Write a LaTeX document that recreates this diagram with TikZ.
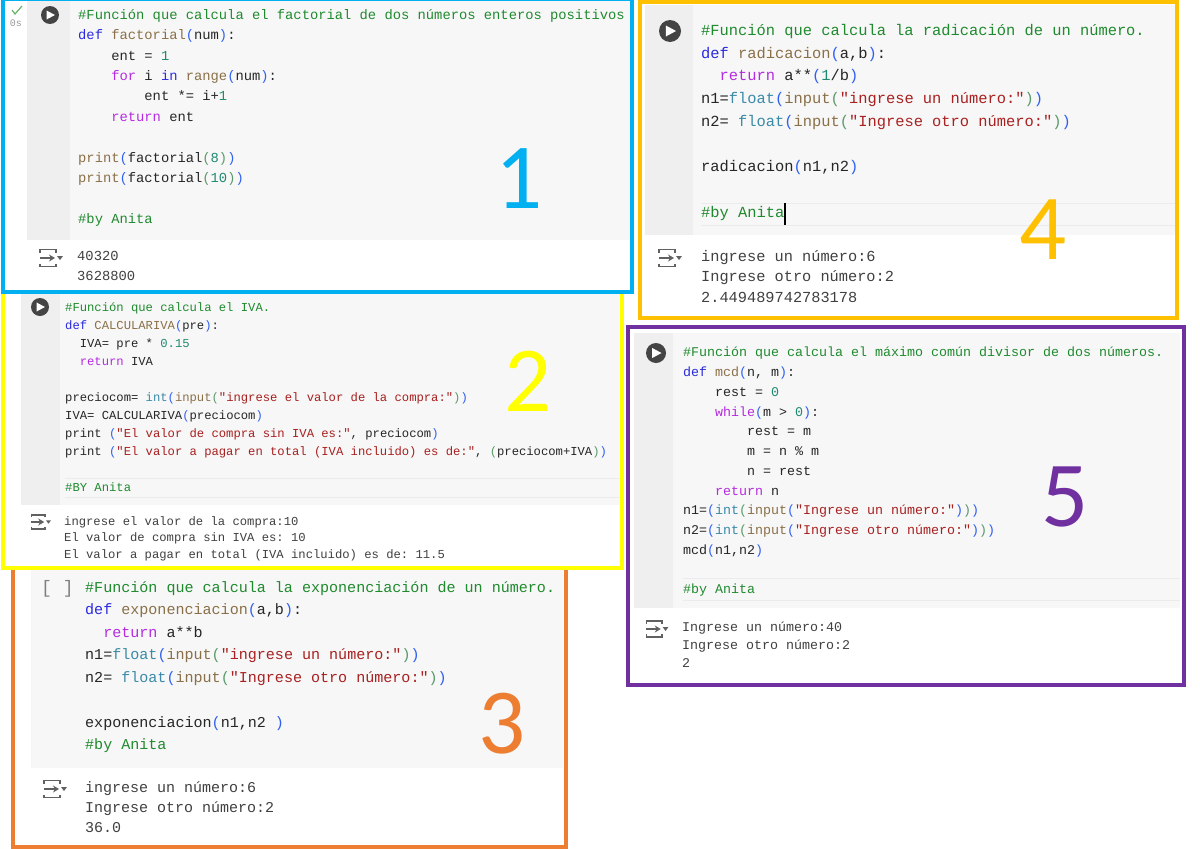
\documentclass[tikz,border=0pt]{standalone}
\usepackage{fontspec}
\usetikzlibrary{arrows.meta}
\setmonofont{Liberation Mono}
\newfontfamily\numfont{Carlito}

\definecolor{cblue}{HTML}{00B0F0}
\definecolor{cyellow}{HTML}{FFFF00}
\definecolor{corange}{HTML}{ED7D31}
\definecolor{cgold}{HTML}{FFC000}
\definecolor{cpurple}{HTML}{7030A0}
\definecolor{cellgray}{HTML}{F7F7F7}
\definecolor{guttergray}{HTML}{EFEFEF}
\definecolor{icongray}{HTML}{616161}

\newcommand{\ccom}[1]{\textcolor[HTML]{1F8A2E}{#1}}
\newcommand{\ckw}[1]{\textcolor[HTML]{2A2AE0}{#1}}
\newcommand{\cflow}[1]{\textcolor[HTML]{B52BE0}{#1}}
\newcommand{\cfn}[1]{\textcolor[HTML]{8A7048}{#1}}
\newcommand{\cstr}[1]{\textcolor[HTML]{A82020}{#1}}
\newcommand{\cnum}[1]{\textcolor[HTML]{1F8A70}{#1}}
\newcommand{\ctyp}[1]{\textcolor[HTML]{3A8AA8}{#1}}
\newcommand{\cpa}[1]{\textcolor[HTML]{3060F0}{#1}}
\newcommand{\cpb}[1]{\textcolor[HTML]{5A9A6A}{#1}}
\newcommand{\ind}[1]{\hphantom{#1}}

% cell background: x1, y1, x2, ysplit, y2, xgutter
\newcommand{\cellback}[6]{
    \fill[white] (#1,#2) rectangle (#3,#5);
    \fill[cellgray] (#1,#2) rectangle (#3,#4);
    \fill[guttergray] (#1,#2) rectangle (#6,#4);
}
\newcommand{\playicon}[3]{
    \fill[icongray!70!black] (#1,#2) circle (#3);
    \fill[white] (#1-0.38*#3,#2-0.5*#3) -- (#1+0.55*#3,#2) -- (#1-0.38*#3,#2+0.5*#3) -- cycle;
}
\newcommand{\outicon}[3]{
    \begin{scope}[shift={(#1,#2)},scale=#3,line width=1.8pt,draw=icongray]
        \draw (-10,-5.5) -- (-10,-8.5) -- (6,-8.5) -- (6,-5.5);
        \draw[-{Stealth[length=6pt,width=7pt]}] (-10.5,0) -- (5,0);
        \fill[icongray] (7,-2) -- (13,-2) -- (10,2) -- cycle;
        \draw (-10,5.5) -- (-10,8.5) -- (6,8.5) -- (6,5.5);
    \end{scope}
}

\tikzset{
    codetext/.style 2 args={anchor=north west,inner sep=0pt,align=left,text=black!85,
        font=\ttfamily\fontsize{#1}{#2}\selectfont},
    outtext/.style 2 args={codetext={#1}{#2},text=black!75},
    bignum/.style={inner sep=0pt,font=\numfont\fontsize{93}{93}\selectfont},
    frameline/.style={line width=4pt},
    focusline/.style={draw=black!8,line width=1pt}
}

\begin{document}
\begin{tikzpicture}[x=1pt,y=-1pt]
    \useasboundingbox (0,0) rectangle (1200,849);
    \fill[white] (0,0) rectangle (1200,849);

    % 4
    \cellback{645}{5}{1175}{235}{316}{693}
    \draw[focusline] (701,203) -- (1175,203) (701,225) -- (1175,225);
    \playicon{670}{31}{11}
    \node[codetext={15.4}{22.75}] (code4) at (701,24) {\ccom{\#Función que calcula la radicación de un número.}\\
        \ckw{def} \cfn{radicacion}\cpa{(}a,b\cpa{)}:\\
        \ind{00}\cflow{return} a**\cpa{(}\cnum{1}/b\cpa{)}\\
        n1=\ctyp{float}\cpa{(}\cfn{input}\cpb{(}\cstr{"ingrese un número:"}\cpb{)}\cpa{)}\\
        n2= \ctyp{float}\cpa{(}\cfn{input}\cpb{(}\cstr{"Ingrese otro número:"}\cpb{)}\cpa{)}\\
        \mbox{}\\
        radicacion\cpa{(}n1,n2\cpa{)}\\
        \mbox{}\\
        \ccom{\#by Anita}};
    \fill[black] (784,203) rectangle (785.5,225);
    \outicon{669}{258}{1}
    \node[outtext={15.3}{20.5}] (out4) at (701,250) {ingrese un número:6\\Ingrese otro número:2\\2.449489742783178};
    \draw[cgold,frameline] (640,2) rectangle (1177,318);
    \node[bignum,text=cgold] (num4) at (1043,230) {4};

    % 5
    \cellback{634}{333}{1180}{608}{682}{673}
    \draw[focusline] (683,578) -- (1180,578) (683,600) -- (1180,600);
    \playicon{656}{353}{10}
    \node[codetext={13.33}{19.75}] (code5) at (683,347) {\ccom{\#Función que calcula el máximo común divisor de dos números.}\\
        \ckw{def} \cfn{mcd}\cpa{(}n, m\cpa{)}:\\
        \ind{0000}rest = \cnum{0}\\
        \ind{0000}\cflow{while}\cpa{(}m > \cnum{0}\cpa{)}:\\
        \ind{00000000}rest = m\\
        \ind{00000000}m = n \% m\\
        \ind{00000000}n = rest\\
        \ind{0000}\cflow{return} n\\
        n1=\cpa{(}\ctyp{int}\cpb{(}\cfn{input}\cpa{(}\cstr{"Ingrese un número:"}\cpa{)}\cpb{)}\cpa{)}\\
        n2=\cpa{(}\ctyp{int}\cpb{(}\cfn{input}\cpa{(}\cstr{"Ingrese otro número:"}\cpa{)}\cpb{)}\cpa{)}\\
        mcd\cpa{(}n1,n2\cpa{)}\\
        \mbox{}\\
        \ccom{\#by Anita}};
    \outicon{656}{629}{0.95}
    \node[outtext={13.33}{17.8}] (out5) at (682,622) {Ingrese un número:40\\Ingrese otro número:2\\2};
    \draw[cpurple,frameline] (628,327) rectangle (1184,685);
    \node[bignum,text=cpurple] (num5) at (1065,497) {5};

    % 3
    \cellback{31}{568}{563}{768}{846}{31}
    \node[codetext={15.06}{22.5}] (code3) at (85,581) {\ccom{\#Función que calcula la exponenciación de un número.}\\
        \ckw{def} \cfn{exponenciacion}\cpa{(}a,b\cpa{)}:\\
        \ind{00}\cflow{return} a**b\\
        n1=\ctyp{float}\cpa{(}\cfn{input}\cpb{(}\cstr{"ingrese un número:"}\cpb{)}\cpa{)}\\
        n2= \ctyp{float}\cpa{(}\cfn{input}\cpb{(}\cstr{"Ingrese otro número:"}\cpb{)}\cpa{)}\\
        \mbox{}\\
        exponenciacion\cpa{(}n1,n2 \cpa{)}\\
        \ccom{\#by Anita}};
    \node[codetext={18}{20},text=black!50] (mark3) at (41,580) {[ ]};
    \outicon{54}{789}{1}
    \node[outtext={15}{20}] (out3) at (85,781) {ingrese un número:6\\Ingrese otro número:2\\36.0};
    \draw[corange,frameline] (13,568) rectangle (566,847);
    \node[bignum,text=corange] (num3) at (502,724) {3};

    % 2
    \cellback{21}{292}{620}{505}{566}{60}
    \draw[focusline] (65,478) -- (620,478) (65,497) -- (620,497);
    \playicon{40}{307}{9}
    \node[codetext={12.2}{18}] (code2) at (65,302) {\ccom{\#Función que calcula el IVA.}\\
        \ckw{def} \cfn{CALCULARIVA}\cpa{(}pre\cpa{)}:\\
        \ind{00}IVA= pre * \cnum{0.15}\\
        \ind{00}\cflow{return} IVA\\
        \mbox{}\\
        preciocom= \ctyp{int}\cpa{(}\cfn{input}\cpb{(}\cstr{"ingrese el valor de la compra:"}\cpb{)}\cpa{)}\\
        IVA= CALCULARIVA\cpa{(}preciocom\cpa{)}\\
        print \cpa{(}\cstr{"El valor de compra sin IVA es:"}, preciocom\cpa{)}\\
        print \cpa{(}\cstr{"El valor a pagar en total (IVA incluido) es de:"}, \cpb{(}preciocom+IVA\cpb{)}\cpa{)}\\
        \mbox{}\\
        \ccom{\#BY Anita}};
    \outicon{40}{522}{0.85}
    \node[outtext={12.2}{16.5}] (out2) at (64,516) {ingrese el valor de la compra:10\\El valor de compra sin IVA es: 10\\El valor a pagar en total (IVA incluido) es de: 11.5};
    \draw[cyellow,frameline] (3,292) rectangle (622,568);
    \node[bignum,text=cyellow] (num2) at (528,381) {2};

    % 1
    \cellback{27}{-3}{630}{240}{290}{70}
    \playicon{50}{15}{9}
    \draw[green!50!black!60,line width=1.2pt] (12,10) -- (15,14) -- (22,6);
    \node[inner sep=0pt,text=black!40,font=\ttfamily\fontsize{10}{10}\selectfont] (time1) at (16,23) {0s};
    \node[codetext={13.8}{20.4}] (code1) at (78,9) {\ccom{\#Función que calcula el factorial de dos números enteros positivos}\\
        \ckw{def} \cfn{factorial}\cpa{(}num\cpa{)}:\\
        \ind{0000}ent = \cnum{1}\\
        \ind{0000}\cflow{for} i \ckw{in} \cfn{range}\cpa{(}num\cpa{)}:\\
        \ind{00000000}ent *= i+\cnum{1}\\
        \ind{0000}\cflow{return} ent\\
        \mbox{}\\
        \cfn{print}\cpa{(}factorial\cpb{(}\cnum{8}\cpb{)}\cpa{)}\\
        \cfn{print}\cpa{(}factorial\cpb{(}\cnum{10}\cpb{)}\cpa{)}\\
        \mbox{}\\
        \ccom{\#by Anita}};
    \outicon{50}{258}{1}
    \node[outtext={13.8}{20}] (out1) at (77,251) {40320\\3628800};
    \draw[cblue,frameline] (2.5,-1) rectangle (631.5,292);
    \node[bignum,text=cblue] (num1) at (519,179) {1};
\end{tikzpicture}
\end{document}
